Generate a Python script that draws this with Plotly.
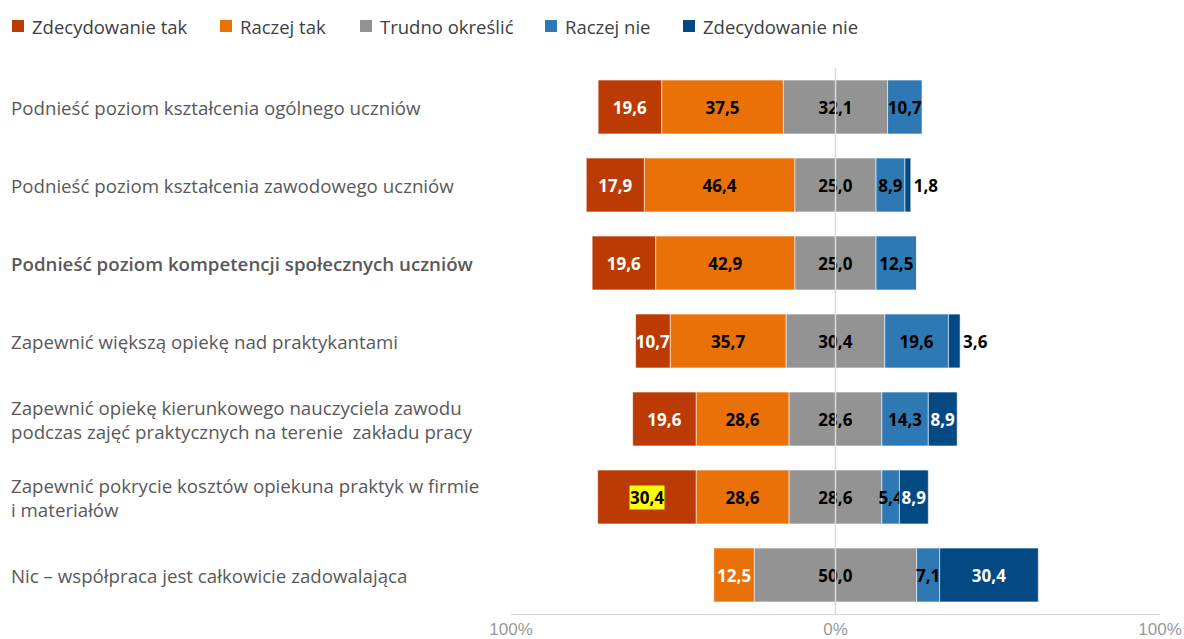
import plotly.graph_objects as go

# Survey statements (top to bottom)
categories = [
    "Podnieść poziom kształcenia ogólnego uczniów",
    "Podnieść poziom kształcenia zawodowego uczniów",
    "Podnieść poziom kompetencji społecznych uczniów",
    "Zapewnić większą opiekę nad praktykantami",
    "Zapewnić opiekę kierunkowego nauczyciela zawodu<br>podczas zajęć praktycznych na terenie  zakładu pracy",
    "Zapewnić pokrycie kosztów opiekuna praktyk w firmie<br>i materiałów",
    "Nic – współpraca jest całkowicie zadowalająca",
]

answers = ["Zdecydowanie tak", "Raczej tak", "Trudno określić", "Raczej nie", "Zdecydowanie nie"]

# Percent of answers per statement
zdecydowanie_tak = [19.6, 17.9, 19.6, 10.7, 19.6, 30.4, 0.0]
raczej_tak = [37.5, 46.4, 42.9, 35.7, 28.6, 28.6, 12.5]
trudno_okreslic = [32.1, 25.0, 25.0, 30.4, 28.6, 28.6, 50.0]
raczej_nie = [10.7, 8.9, 12.5, 19.6, 14.3, 5.4, 7.1]
zdecydowanie_nie = [0.0, 1.8, 0.0, 3.6, 8.9, 8.9, 30.4]

colors = ["#BC3A03", "#EA7008", "#939393", "#2E79B3", "#034A84"]

n = len(categories)
series = [zdecydowanie_tak, raczej_tak, trudno_okreslic, raczej_nie, zdecydowanie_nie]

# Diverging layout: bars centred on the middle of the neutral answer
bases = [[0.0] * n for _ in series]
for i in range(n):
    half = trudno_okreslic[i] / 2
    bases[2][i] = -half
    bases[1][i] = -half - raczej_tak[i]
    bases[0][i] = bases[1][i] - zdecydowanie_tak[i]
    bases[3][i] = half
    bases[4][i] = half + raczej_nie[i]


def fmt(v):
    return f"{v:.1f}".replace(".", ",") if v > 0 else ""


# Label colours per segment
text_colors = [
    ["white"] * n,
    ["black"] * (n - 1) + ["white"],
    ["black"] * n,
    ["black"] * n,
    ["black", "black", "black", "black", "white", "white", "white"],
]
text_positions = [
    ["inside"] * n,
    ["inside"] * n,
    ["inside"] * n,
    ["inside"] * n,
    ["inside", "outside", "inside", "outside", "inside", "inside", "inside"],
]

# Highlighted value (statement 6, "Zdecydowanie tak")
hl_series, hl_row = 0, 5

LABEL_FONT = "Open Sans"

fig = go.Figure()
for k, (name, vals) in enumerate(zip(answers, series)):
    texts = [fmt(v) for v in vals]
    if k == hl_series:
        texts[hl_row] = ""
    fig.add_trace(go.Bar(
        name=name,
        y=categories,
        x=vals,
        base=bases[k],
        orientation="h",
        marker=dict(color=colors[k], line=dict(color="rgba(255,255,255,0.55)", width=1)),
        text=texts,
        textposition=text_positions[k],
        insidetextanchor="middle",
        textangle=0,
        constraintext="none",
        cliponaxis=False,
        textfont=dict(family=LABEL_FONT, size=17, color=text_colors[k], weight="bold"),
        hoverinfo="skip",
        showlegend=False,
    ))

# Plot area geometry (pixels) used to place labels outside it
PLOT_L, PLOT_W = 511, 649
PLOT_B, PLOT_H = 614, 546


def px_x(x):
    return (x - PLOT_L) / PLOT_W


def px_y(y):
    return (PLOT_B - y) / PLOT_H


annotations = []
shapes = []

# Statement labels, left aligned
for i, cat in enumerate(categories):
    annotations.append(dict(
        xref="paper", yref="y", x=px_x(9), y=cat,
        text=cat, showarrow=False, xanchor="left", align="left",
        font=dict(family=LABEL_FONT, size=18.7, color="#595959",
                  weight=600 if i == 2 else "normal"),
    ))

# Highlighted value label
annotations.append(dict(
    xref="x", yref="y",
    x=bases[hl_series][hl_row] + series[hl_series][hl_row] / 2,
    y=categories[hl_row],
    text=fmt(series[hl_series][hl_row]),
    showarrow=False, bgcolor="#FFFF00", borderpad=0,
    font=dict(family=LABEL_FONT, size=17, color="black", weight="bold"),
))

# Legend row across the top
legend_x = [12, 220, 360, 545, 683]
legend_y = 26
for name, color, lx in zip(answers, colors, legend_x):
    shapes.append(dict(
        type="rect", xref="paper", yref="paper",
        x0=px_x(lx), x1=px_x(lx + 12), y0=px_y(legend_y + 6), y1=px_y(legend_y - 6),
        fillcolor=color, line=dict(width=0),
    ))
    annotations.append(dict(
        xref="paper", yref="paper", x=px_x(lx + 18), y=px_y(legend_y),
        text=name, showarrow=False, xanchor="left", yanchor="middle",
        font=dict(family=LABEL_FONT, size=18.5, color="#404040"),
    ))

# Zero reference line drawn over the bars
shapes.append(dict(type="line", xref="x", yref="paper", x0=0, x1=0, y0=0, y1=1,
                   line=dict(color="#DADADA", width=1.5), layer="above"))

fig.update_layout(
    width=1184, height=639,
    margin=dict(l=PLOT_L, r=1184 - PLOT_L - PLOT_W, t=PLOT_B - PLOT_H, b=639 - PLOT_B,
                autoexpand=False),
    paper_bgcolor="white", plot_bgcolor="white",
    barmode="overlay", bargap=0.31,
    showlegend=False,
    xaxis=dict(
        range=[-100, 100],
        tickvals=[-100, 0, 100], ticktext=["100%", "0%", "100%"],
        showgrid=True, gridcolor="#D9D9D9", gridwidth=1,
        zeroline=False, showline=True, linecolor="#D9D9D9",
        ticks="", ticklabelstandoff=0, automargin=False,
        tickfont=dict(family="Liberation Sans", size=17, color="#999999"),
        fixedrange=True,
    ),
    yaxis=dict(
        type="category", categoryorder="array", categoryarray=categories,
        autorange="reversed", showticklabels=False, showgrid=False,
        zeroline=False, showline=False, fixedrange=True, automargin=False,
    ),
    annotations=annotations,
    shapes=shapes,
)

fig.write_html("out.html")
